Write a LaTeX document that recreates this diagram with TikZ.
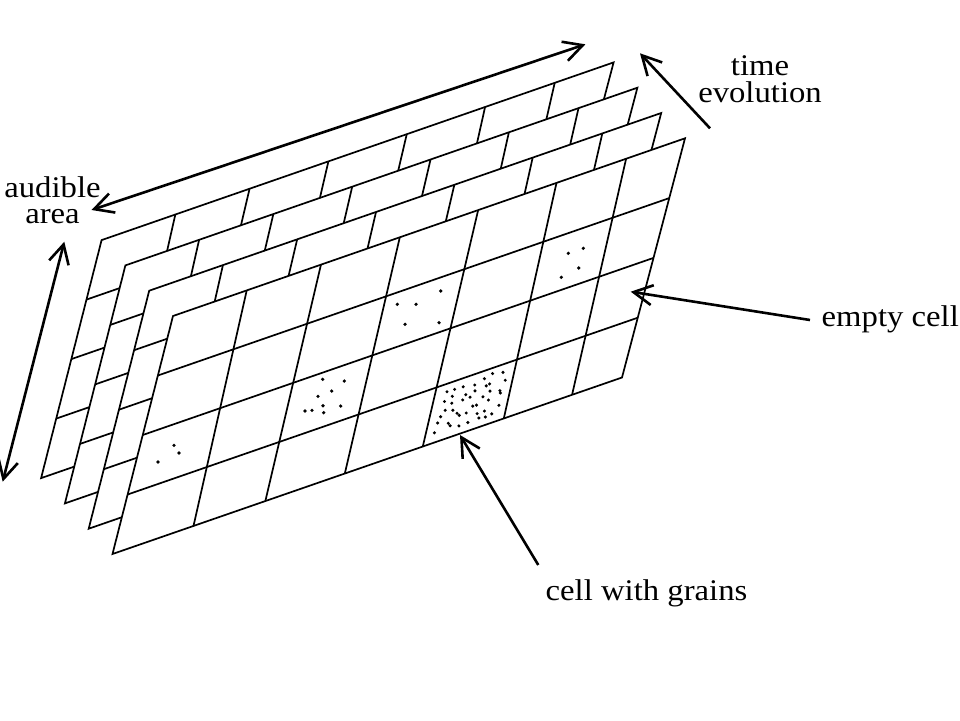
\documentclass[tikz,border=0pt]{standalone}
\usepackage{fontspec}
\setmainfont{Liberation Serif}
\usetikzlibrary{arrows.meta,calc}
\newcommand{\wide}[1]{\scalebox{1.09}[1]{#1}}
\begin{document}
\begin{tikzpicture}[x=1pt,y=-1pt,
  gridline/.style={line width=1.7pt, line join=miter},
  pointer/.style={line width=2.6pt, -{Straight Barb[length=19pt,width=20pt]}},
  twoway/.style={line width=2.6pt, {Straight Barb[length=19pt,width=20pt]}-{Straight Barb[length=19pt,width=20pt]}},
  lbl/.style={inner sep=0pt, font=\fontsize{30}{30}\selectfont},
  grain/.style={fill=black}]
\useasboundingbox (0,0) rectangle (960,720);
% four stacked sheets, back to front
\foreach \k in {0,1,2,3}{
  \pgfmathsetmacro\dx{-23.8*(3-\k)}
  \pgfmathsetmacro\dy{-25.3*(3-\k)}
  \begin{scope}[shift={(\dx,\dy)}]
    \coordinate (BL\k) at (112.5,554);
    \coordinate (BR\k) at (622,377.5);
    \coordinate (TR\k) at (685,138.3);
    \coordinate (TL\k) at (173,316);
    \filldraw[gridline, fill=white] (BL\k) -- (BR\k) -- (TR\k) -- (TL\k) -- cycle;
    \foreach \ft/\fb in {0.144/0.159, 0.289/0.300, 0.443/0.456, 0.596/0.609, 0.749/0.768, 0.885/0.902}
      \draw[gridline] ($(TL\k)!\ft!(TR\k)$) -- ($(BL\k)!\fb!(BR\k)$);
    \foreach \f in {0.25,0.5,0.75}
      \draw[gridline] ($(TL\k)!\f!(BL\k)$) -- ($(TR\k)!\f!(BR\k)$);
  \end{scope}
}
% sparse grains
\foreach \p in {(174,445.3),(179,453),(158,462),
  (322.7,379.3),(344.3,381),(331.7,391),(318,396.3),(323,405.7),(340.7,406),(305,411),(312,410.3),(323.7,412.7),
  (397.3,304.3),(416,304.3),(440.7,291),(405,324.3),(439,322.7),
  (568.3,253.3),(583.3,248.3),(578.7,268),(561.3,277.3)}
  \fill[grain] \p circle[radius=1.8];
% dense grains
\pgfmathsetseed{12}
\foreach \i in {0,...,6}{
  \foreach \j in {0,...,5}{
    \pgfmathsetmacro\a{0.08+0.84*(\i+0.5)/7+0.045*rand}
    \pgfmathsetmacro\b{0.08+0.84*(\j+0.5)/6+0.05*rand}
    \fill[grain] ({423+81*\a+14*\b},{446-29*\a-58*\b}) circle[radius=1.7];
  }
}
% labels
\node[lbl, align=center, anchor=north, font=\fontsize{30}{27.2}\selectfont] (ltime) at (760,55) {\wide{time}\\\wide{evolution}};
\node[lbl, align=center, anchor=north, font=\fontsize{30}{26}\selectfont] (laud) at (52.5,176) {\wide{audible}\\\wide{area}};
\node[lbl, anchor=base west] (lempty) at (821.5,326) {\wide{empty cell}};
\node[lbl, anchor=base west] (lgrain) at (545.5,600) {\wide{cell with grains}};
% arrows
\coordinate (h1) at (91.5,210);
\coordinate (h2) at (585.4,44.3);
\draw[twoway] (h1) -- (h2);
\coordinate (v1) at (64.3,241.7);
\coordinate (v2) at (2.7,481.7);
\draw[twoway] (v1) -- (v2);
\coordinate (tA) at (710,128.3);
\coordinate (tB) at (640,53.3);
\draw[pointer] (tA) -- (tB);
\coordinate (eA) at (810,320);
\coordinate (eB) at (630.7,291.7);
\draw[pointer] (eA) -- (eB);
\coordinate (gA) at (538.3,565);
\coordinate (gB) at (460,435);
\draw[pointer] (gA) -- (gB);
\end{tikzpicture}
\end{document}
